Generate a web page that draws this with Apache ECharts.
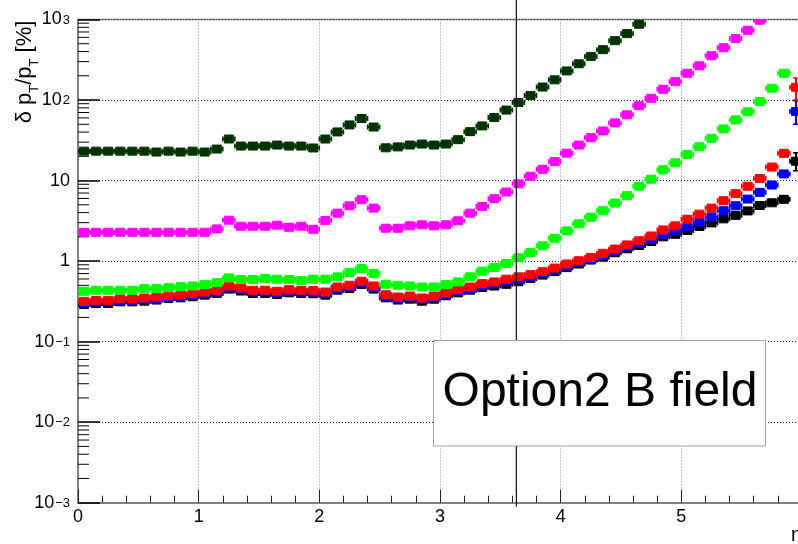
<!DOCTYPE html>
<html><head><meta charset="utf-8">
<script src="https://cdn.jsdelivr.net/npm/echarts@6/dist/echarts.min.js"></script>
<style>html,body{margin:0;padding:0;background:#fff}#c{width:798px;height:544px}</style>
</head><body><div id="c"></div>
<script>
// ---- data ----
const eta = [0.05,0.15,0.25,0.35,0.45,0.55,0.65,0.75,0.85,0.95,
  1.05,1.15,1.25,1.35,1.45,1.55,1.65,1.75,1.85,1.95,
  2.05,2.15,2.25,2.35,2.45,2.55,2.65,2.75,2.85,2.95,
  3.05,3.15,3.25,3.35,3.45,3.55,3.65,3.75,3.85,3.95,
  4.05,4.15,4.25,4.35,4.45,4.55,4.65,4.75,4.85,4.95,
  5.05,5.15,5.25,5.35,5.45,5.55,5.65,5.75,5.85,5.95];
const halfBin = 0.05;

const darkGreenVals = [23.2,23.2,23.2,23.2,23.2,23.2,22.6,23.2,22.6,23.2,
  22.6,24.6,32.8,26.8,26.8,26.8,27.6,26.8,26.8,25.4,
  32.8,40.2,49.1,58.9,46.2,25.5,26.2,27.6,28.4,27.6,
  28.4,32.2,40.5,47.7,60.7,75,93.3,114,145,178,
  230,282,348,422,546,668,873];
const magentaVals = [2.28,2.28,2.28,2.28,2.28,2.28,2.28,2.28,2.28,2.28,
  2.28,2.51,3.22,2.71,2.71,2.71,2.79,2.63,2.71,2.48,
  3.19,3.94,4.86,5.78,4.55,2.56,2.56,2.74,2.82,2.74,
  2.82,3.16,3.94,4.77,5.95,7.2,9.1,11.3,13.8,17.2,
  21.9,27.6,34.1,41.3,52,65.5,85,105,136,169,
  215,266,355,446,579,735,980];
const greenVals = [0.422,0.434,0.434,0.434,0.434,0.455,0.455,0.468,0.482,0.491,
  0.51,0.54,0.618,0.589,0.589,0.607,0.596,0.589,0.573,0.596,
  0.596,0.637,0.72,0.81,0.70,0.516,0.501,0.491,0.477,0.477,
  0.51,0.551,0.637,0.75,0.832,0.933,1.1,1.28,1.55,1.92,
  2.37,2.9,3.51,4.22,5.25,6.5,8.5,10.4,13.6,16.6,
  21.1,26.3,33.5,43.8,56.7,71.4,96,140,215];
const redVals = [0.316,0.325,0.325,0.341,0.341,0.348,0.358,0.376,0.383,0.394,
  0.413,0.434,0.491,0.464,0.434,0.434,0.422,0.442,0.434,0.43,
  0.413,0.477,0.501,0.562,0.491,0.383,0.358,0.368,0.348,0.368,
  0.405,0.442,0.477,0.525,0.551,0.596,0.637,0.68,0.74,0.82,
  0.92,1.01,1.11,1.25,1.41,1.59,1.79,2.05,2.44,2.74,
  3.31,3.83,4.55,5.62,6.88,8.5,10.6,14.7,21.8,144];
const blueVals = [0.302,0.31,0.31,0.326,0.326,0.332,0.342,0.359,0.366,0.376,
  0.394,0.414,0.469,0.443,0.414,0.414,0.403,0.422,0.414,0.411,
  0.394,0.456,0.478,0.537,0.469,0.366,0.342,0.351,0.332,0.351,
  0.387,0.422,0.456,0.50,0.52,0.555,0.595,0.64,0.70,0.78,
  0.87,0.96,1.07,1.18,1.34,1.5,1.67,1.88,2.15,2.38,
  2.69,3.06,3.54,4.22,4.87,5.89,7.14,8.8,12.1,72];
const blackVals = [0.289,0.297,0.297,0.312,0.312,0.318,0.328,0.344,0.35,0.361,
  0.378,0.397,0.449,0.425,0.397,0.397,0.386,0.404,0.397,0.393,
  0.378,0.436,0.458,0.514,0.449,0.35,0.328,0.337,0.318,0.337,
  0.371,0.404,0.436,0.47,0.49,0.515,0.555,0.61,0.67,0.74,
  0.83,0.92,1.03,1.12,1.27,1.42,1.56,1.75,2.0,2.15,
  2.4,2.69,2.98,3.35,3.7,4.2,4.9,5.3,5.85,17.4];
// vertical errors of the last bin [low, high]
const redLastErr = [100, 188];
const blueLastErr = [50, 98];
const blackLastErr = [13.2, 22.1];

const xTickLabels = ['0','1','2','3','4','5','6'];
const yTickExponents = [-3,-2,-1,0,1,2,3];
const minorMultipliers = [2,3,4,5,6,7,8,9];
const cutEta = 3.633;

// ---- build ----
function build(vals, lastErr) {
  const out = [];
  vals.forEach((v, i) => {
    if (v == null) return;
    const isLast = lastErr && i === vals.length - 1;
    out.push([eta[i], v, isLast ? lastErr[0] : 0, isLast ? lastErr[1] : 0]);
  });
  return out;
}

function makeRender(color) {
  return function (params, api) {
    const x = api.value(0), y = api.value(1);
    const c = api.coord([x, y]);
    const l = api.coord([x - halfBin, y]);
    const r = api.coord([x + halfBin, y]);
    const ch = [];
    ch.push({type:'line', shape:{x1:l[0], y1:c[1], x2:r[0], y2:c[1]}, style:{stroke:color, lineWidth:2}});
    ch.push({type:'line', shape:{x1:l[0], y1:c[1]-2.5, x2:l[0], y2:c[1]+2.5}, style:{stroke:color, lineWidth:1.5}});
    ch.push({type:'line', shape:{x1:r[0], y1:c[1]-2.5, x2:r[0], y2:c[1]+2.5}, style:{stroke:color, lineWidth:1.5}});
    const lo = api.value(2), hi = api.value(3);
    if (lo > 0 && hi > 0) {
      const pl = api.coord([x, lo]), ph = api.coord([x, hi]);
      ch.push({type:'line', shape:{x1:c[0], y1:pl[1], x2:c[0], y2:ph[1]}, style:{stroke:color, lineWidth:2}});
      ch.push({type:'line', shape:{x1:c[0]-3, y1:pl[1], x2:c[0]+3, y2:pl[1]}, style:{stroke:color, lineWidth:1.5}});
      ch.push({type:'line', shape:{x1:c[0]-3, y1:ph[1], x2:c[0]+3, y2:ph[1]}, style:{stroke:color, lineWidth:1.5}});
    }
    ch.push({type:'rect', shape:{x:c[0]-4.5, y:c[1]-4, width:9, height:8}, style:{fill:color, stroke:color, lineWidth:1, opacity:1}});
    return {type:'group', children: ch};
  };
}

function errSeries(name, vals, color, lastErr) {
  return {
    type: 'custom', name: name, clip: true,
    data: build(vals, lastErr),
    encode: {x: 0, y: 1},
    renderItem: makeRender(color),
    z: 5
  };
}

const minorTickData = [];
yTickExponents.slice(0, -1).forEach(e => {
  minorMultipliers.forEach(m => minorTickData.push([0, m * Math.pow(10, e)]));
});

const FONT = '"Liberation Sans", Arial, Helvetica, sans-serif';

const chart = echarts.init(document.getElementById('c'), null, {renderer: 'canvas'});
chart.setOption({
  animation: false,
  backgroundColor: '#fff',
  grid: {left: 78, right: -4, top: 19.5, bottom: 41.3, show: true, borderColor: '#808080', borderWidth: 1.5,
         backgroundColor: 'transparent', containLabel: false, outerBoundsMode: 'none'},
  xAxis: {
    type: 'value', min: 0, max: 6, interval: 1,
    axisLine: {show: true, onZero: false, lineStyle: {color: '#808080', width: 2}},
    axisTick: {show: true, inside: true, length: 13, lineStyle: {color: '#222', width: 1}},
    minorTick: {show: true, splitNumber: 5, length: 7, lineStyle: {color: '#222', width: 1}},
    axisLabel: {color: '#000', fontSize: 18, fontFamily: FONT, margin: 5,
                formatter: v => xTickLabels[Math.round(v)]},
    splitLine: {show: true, lineStyle: {color: '#808080', width: 1, type: [1, 2]}}
  },
  yAxis: {
    type: 'log', logBase: 10, min: 0.001, max: 1000, splitNumber: 6,
    axisLine: {show: true, onZero: false, lineStyle: {color: '#808080', width: 2}},
    axisTick: {show: true, inside: true, length: 22, lineStyle: {color: '#000', width: 1.5}},
    axisLabel: {
      color: '#000', fontFamily: FONT, margin: 8,
      formatter: v => {
        const e = Math.round(Math.log10(v));
        if (e === 0) return '{p|1}';
        if (e === 1) return '{p|10}';
        return '{b|10}{s|' + (e < 0 ? '\u2212' + (-e) : String(e)) + '}';
      },
      rich: {
        p: {fontSize: 18, fontFamily: FONT, color: '#000'},
        b: {fontSize: 18, fontFamily: FONT, color: '#000', lineHeight: 18, padding: [8, 0, 0, 0], verticalAlign: 'bottom'},
        s: {fontSize: 13, fontFamily: FONT, color: '#000', lineHeight: 14, padding: [3, 0, 0, 1], verticalAlign: 'top'}
      }
    },
    splitLine: {show: true, lineStyle: {color: '#222', width: 1, type: [1, 2]}}
  },
  series: [
    {
      type: 'custom', name: 'minorTicks', clip: false, silent: true,
      data: minorTickData, encode: {x: 0, y: 1}, z: 4,
      renderItem: (params, api) => {
        const p = api.coord([api.value(0), api.value(1)]);
        return {type: 'line', shape: {x1: p[0], y1: p[1], x2: p[0] + 11, y2: p[1]}, style: {stroke: '#000', lineWidth: 1}};
      }
    },
    errSeries('black', blackVals, '#000000', blackLastErr),
    errSeries('blue', blueVals, '#0000ff', blueLastErr),
    errSeries('red', redVals, '#ff0000', redLastErr),
    errSeries('green', greenVals, '#00ff00'),
    errSeries('magenta', magentaVals, '#ff00ff'),
    errSeries('darkgreen', darkGreenVals, '#003300')
  ]
});

const xCut = chart.convertToPixel({xAxisIndex: 0}, cutEta);
const yBottom = chart.convertToPixel({yAxisIndex: 0}, 0.001);
chart.setOption({
  graphic: [
    {type: 'line', id: 'cut', z: 50, shape: {x1: xCut, y1: 0, x2: xCut, y2: yBottom + 4},
     style: {stroke: '#1a1a1a', lineWidth: 1.3}},
    {type: 'rect', id: 'box', z: 60, shape: {x: 433.5, y: 340.5, width: 332, height: 105.5},
     style: {fill: '#fff', stroke: '#a0a0a0', lineWidth: 1}},
    {type: 'text', id: 'boxText', z: 61, x: 600, y: 393,
     style: {text: 'Option2 B field', font: '48px ' + FONT, fill: '#000', align: 'center', verticalAlign: 'middle'}},
    {type: 'text', id: 'ytitle', z: 61, x: 25, y: 72, rotation: Math.PI / 2,
     style: {text: '{n|\u03b4 p}{s|T}{n|/p}{s|T}{n| [%]}', align: 'center', verticalAlign: 'middle',
       rich: {
         n: {fontSize: 22, fontFamily: FONT, fill: '#000', lineHeight: 22, verticalAlign: 'top'},
         s: {fontSize: 13, fontFamily: FONT, fill: '#000', lineHeight: 13, padding: [14, 0, 0, 0], verticalAlign: 'top'}
       }}},
    {type: 'text', id: 'xtitle', z: 61, x: 802, y: 525,
     style: {text: '\u03b7', font: '20px ' + FONT, fill: '#000', align: 'right', verticalAlign: 'top'}}
  ]
});
</script>
</body></html>
